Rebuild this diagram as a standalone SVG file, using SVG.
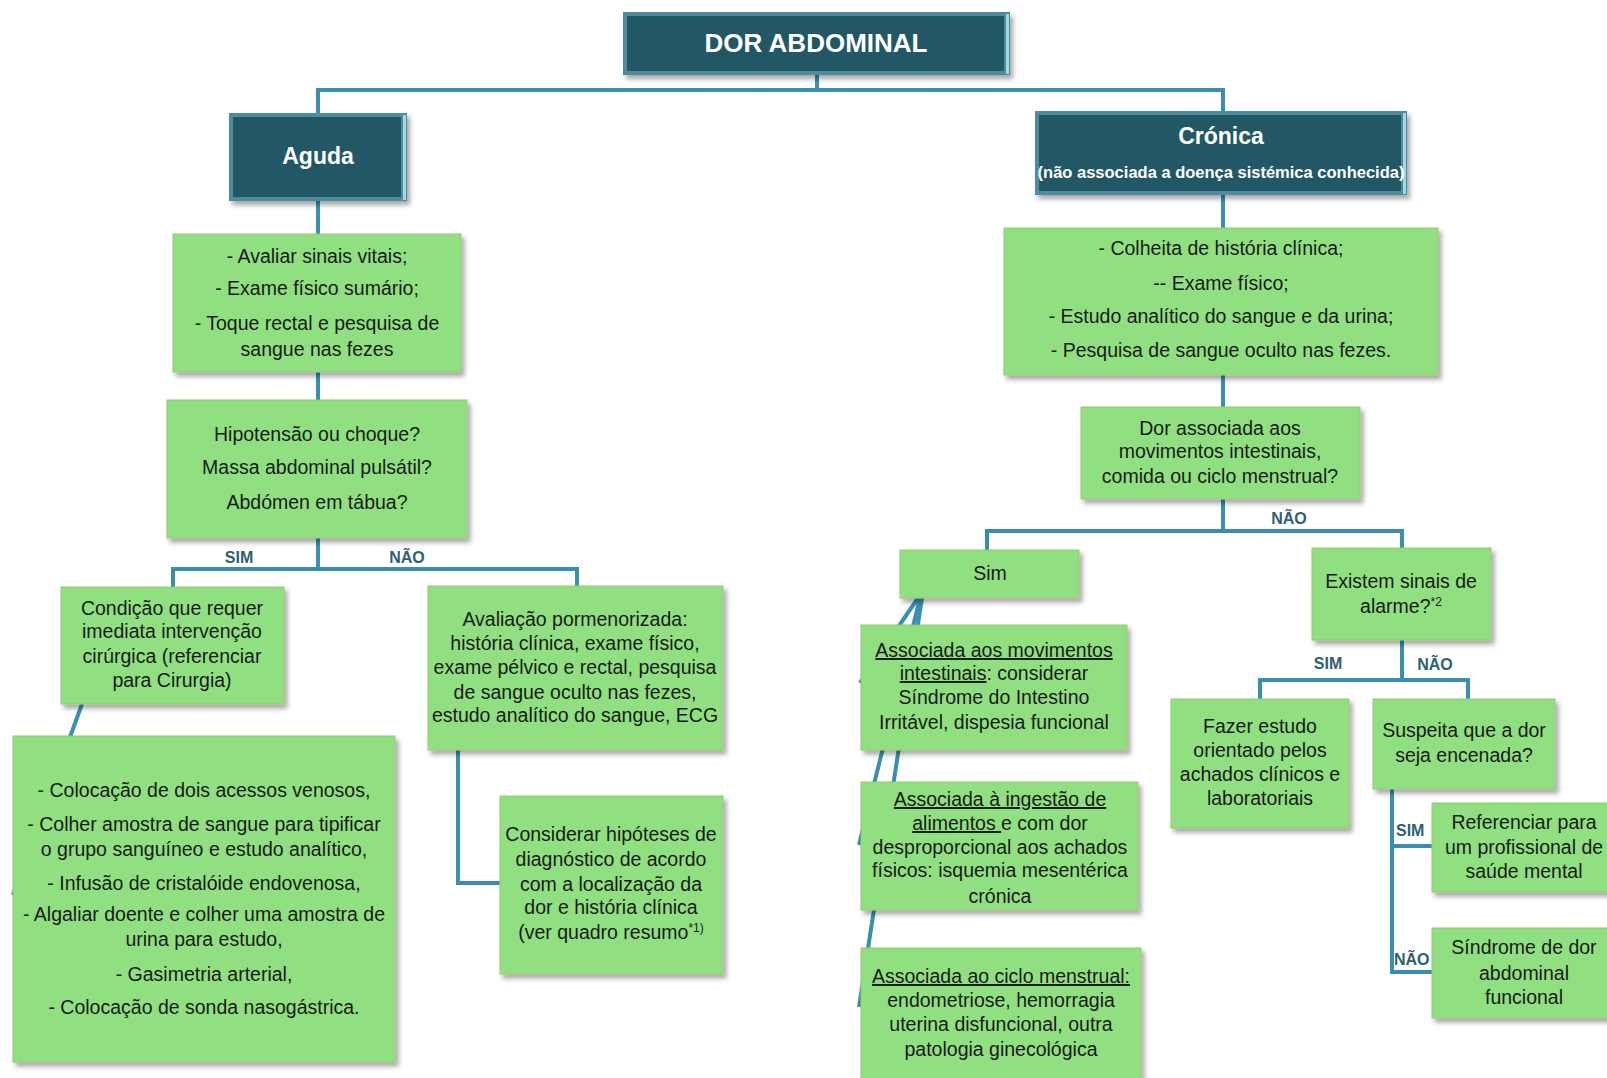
<svg xmlns="http://www.w3.org/2000/svg" width="1607" height="1078" viewBox="0 0 1607 1078">
<defs>
<filter id="sh" x="-10%" y="-10%" width="130%" height="140%">
<feDropShadow dx="3" dy="4" stdDeviation="2.5" flood-color="#000" flood-opacity="0.35"/>
</filter>
<style>
.bg{fill:#ffffff}
.gb{fill:#90e081;stroke:#9cc66f;stroke-width:1;filter:url(#sh)}
.dko{fill:#4d8c9c;filter:url(#sh)}
.dki{fill:#225866}
.hl{fill:#9fd9e6}
.t{font-family:"Liberation Sans",Arial,sans-serif;font-size:19.5px;fill:#1a1a1a;text-anchor:middle}
.h{font-family:"Liberation Sans",Arial,sans-serif;font-weight:bold;fill:#ffffff;text-anchor:middle}
.lb{font-family:"Liberation Sans",Arial,sans-serif;font-weight:bold;font-size:16px;fill:#2e5f72}
.c{fill:none;stroke:#3a8fb0;stroke-width:4}
.u{text-decoration:underline}
</style>
</defs>
<rect class="bg" x="0" y="0" width="1607" height="1078"/>

<g id="connectors">
<path class="c" d="M817 75 V90 M318 113 V90 H1223 V111"/>
<path class="c" d="M318 201 V234 M318 372 V400 M318 538 V569 M173 587 V569 H577 V586"/>
<path class="c" d="M82 704 L13 895"/>
<path class="c" d="M458 750 V883 H500"/>
<path class="c" d="M1223 195 V228 M1223 375 V407 M1223 499 V531 M987 550 V531 H1402 V548"/>
<path class="c" d="M918 598 L860 683 M920 598 L859 845 M922 598 L859 1007"/>
<path class="c" d="M1402 640 V680 M1260 699 V680 H1468 V699"/>
<path class="c" d="M1392 789 V972 H1432 M1392 846 H1432"/>
<text class="lb" x="239" y="563" text-anchor="middle">SIM</text>
<text class="lb" x="407" y="563" text-anchor="middle">NÃO</text>
<text class="lb" x="1289" y="524" text-anchor="middle">NÃO</text>
<text class="lb" x="1328" y="669" text-anchor="middle">SIM</text>
<text class="lb" x="1435" y="670" text-anchor="middle">NÃO</text>
<text class="lb" x="1396" y="836">SIM</text>
<text class="lb" x="1394" y="965">NÃO</text>
</g>

<g id="dor-abdominal">
<rect class="dko" x="623" y="12" width="387" height="63"/>
<rect class="dki" x="627" y="16" width="377" height="55"/>
<rect class="hl" x="1006" y="14" width="3" height="60"/>
<text class="h" x="816" y="52" font-size="26">DOR ABDOMINAL</text>
</g>

<g id="aguda">
<rect class="dko" x="229" y="113" width="178" height="88"/>
<rect class="dki" x="233" y="117" width="168" height="80"/>
<rect class="hl" x="403" y="115" width="3" height="85"/>
<text class="h" x="318" y="164" font-size="23">Aguda</text>
</g>

<g id="cronica">
<rect class="dko" x="1035" y="111" width="372" height="84"/>
<rect class="dki" x="1039" y="115" width="362" height="76"/>
<rect class="hl" x="1403" y="113" width="3" height="81"/>
<text class="h" x="1221" y="144" font-size="23">Crónica</text>
<text class="h" x="1221" y="178" font-size="16.5">(não associada a doença sistémica conhecida)</text>
</g>

<g id="avaliar">
<rect class="gb" x="173" y="234" width="288" height="138"/>
<text class="t" x="317" y="263">- Avaliar sinais vitais;</text>
<text class="t" x="317" y="295">- Exame físico sumário;</text>
<text class="t" x="317" y="330">- Toque rectal e pesquisa de</text>
<text class="t" x="317" y="356">sangue nas fezes</text>
</g>

<g id="hipotensao">
<rect class="gb" x="167" y="400" width="300" height="138"/>
<text class="t" x="317" y="441">Hipotensão ou choque?</text>
<text class="t" x="317" y="474">Massa abdominal pulsátil?</text>
<text class="t" x="317" y="509">Abdómen em tábua?</text>
</g>

<g id="condicao">
<rect class="gb" x="61" y="587" width="223" height="117"/>
<text class="t" x="172" y="615">Condição que requer</text>
<text class="t" x="172" y="638">imediata intervenção</text>
<text class="t" x="172" y="663">cirúrgica (referenciar</text>
<text class="t" x="172" y="687">para Cirurgia)</text>
</g>

<g id="avaliacao">
<rect class="gb" x="428" y="586" width="295" height="164"/>
<text class="t" x="575" y="626">Avaliação pormenorizada:</text>
<text class="t" x="575" y="650">história clínica, exame físico,</text>
<text class="t" x="575" y="674">exame pélvico e rectal, pesquisa</text>
<text class="t" x="575" y="699">de sangue oculto nas fezes,</text>
<text class="t" x="575" y="722">estudo analítico do sangue, ECG</text>
</g>

<g id="medidas">
<rect class="gb" x="13" y="736" width="382" height="326"/>
<text class="t" x="204" y="797">- Colocação de dois acessos venosos,</text>
<text class="t" x="204" y="831">- Colher amostra de sangue para tipificar</text>
<text class="t" x="204" y="856">o grupo sanguíneo e estudo analítico,</text>
<text class="t" x="204" y="890">- Infusão de cristalóide endovenosa,</text>
<text class="t" x="204" y="921">- Algaliar doente e colher uma amostra de</text>
<text class="t" x="204" y="946">urina para estudo,</text>
<text class="t" x="204" y="981">- Gasimetria arterial,</text>
<text class="t" x="204" y="1014">- Colocação de sonda nasogástrica.</text>
</g>

<g id="considerar">
<rect class="gb" x="500" y="796" width="223" height="178"/>
<text class="t" x="611" y="841">Considerar hipóteses de</text>
<text class="t" x="611" y="866">diagnóstico de acordo</text>
<text class="t" x="611" y="891">com a localização da</text>
<text class="t" x="611" y="914">dor e história clínica</text>
<text class="t" x="611" y="939">(ver quadro resumo<tspan font-size="12" dy="-7">*1)</tspan></text>
</g>

<g id="colheita">
<rect class="gb" x="1004" y="228" width="434" height="147"/>
<text class="t" x="1221" y="255">- Colheita de história clínica;</text>
<text class="t" x="1221" y="290">-- Exame físico;</text>
<text class="t" x="1221" y="323">- Estudo analítico do sangue e da urina;</text>
<text class="t" x="1221" y="357">- Pesquisa de sangue oculto nas fezes.</text>
</g>

<g id="dor-associada">
<rect class="gb" x="1081" y="407" width="279" height="92"/>
<text class="t" x="1220" y="435">Dor associada aos</text>
<text class="t" x="1220" y="458">movimentos intestinais,</text>
<text class="t" x="1220" y="483">comida ou ciclo menstrual?</text>
</g>

<g id="sim">
<rect class="gb" x="900" y="550" width="179" height="48"/>
<text class="t" x="990" y="580">Sim</text>
</g>

<g id="existem">
<rect class="gb" x="1312" y="548" width="179" height="92"/>
<text class="t" x="1401" y="588">Existem sinais de</text>
<text class="t" x="1401" y="613">alarme?<tspan font-size="12" dy="-7">*2</tspan></text>
</g>

<g id="associada-intestinais">
<rect class="gb" x="861" y="625" width="266" height="125"/>
<text class="t" x="994" y="657"><tspan class="u">Associada aos movimentos</tspan></text>
<text class="t" x="994" y="680"><tspan class="u">intestinais</tspan>: considerar</text>
<text class="t" x="994" y="704">Síndrome do Intestino</text>
<text class="t" x="994" y="729">Irritável, dispesia funcional</text>
</g>

<g id="associada-alimentos">
<rect class="gb" x="861" y="782" width="277" height="128"/>
<text class="t" x="1000" y="806"><tspan class="u">Associada à ingestão de</tspan></text>
<text class="t" x="1000" y="830"><tspan class="u">alimentos </tspan>e com dor</text>
<text class="t" x="1000" y="854">desproporcional aos achados</text>
<text class="t" x="1000" y="877">físicos: isquemia mesentérica</text>
<text class="t" x="1000" y="903">crónica</text>
</g>

<g id="associada-ciclo">
<rect class="gb" x="861" y="948" width="280" height="140"/>
<text class="t" x="1001" y="983"><tspan class="u">Associada ao ciclo menstrual:</tspan></text>
<text class="t" x="1001" y="1007">endometriose, hemorragia</text>
<text class="t" x="1001" y="1031">uterina disfuncional, outra</text>
<text class="t" x="1001" y="1056">patologia ginecológica</text>
</g>

<g id="fazer-estudo">
<rect class="gb" x="1171" y="699" width="178" height="129"/>
<text class="t" x="1260" y="733">Fazer estudo</text>
<text class="t" x="1260" y="757">orientado pelos</text>
<text class="t" x="1260" y="781">achados clínicos e</text>
<text class="t" x="1260" y="805">laboratoriais</text>
</g>

<g id="suspeita">
<rect class="gb" x="1373" y="699" width="182" height="90"/>
<text class="t" x="1464" y="737">Suspeita que a dor</text>
<text class="t" x="1464" y="762">seja encenada?</text>
</g>

<g id="referenciar">
<rect class="gb" x="1432" y="803" width="190" height="89"/>
<text class="t" x="1524" y="829">Referenciar para</text>
<text class="t" x="1524" y="854">um profissional de</text>
<text class="t" x="1524" y="878">saúde mental</text>
</g>

<g id="sindrome">
<rect class="gb" x="1432" y="928" width="190" height="90"/>
<text class="t" x="1524" y="954">Síndrome de dor</text>
<text class="t" x="1524" y="980">abdominal</text>
<text class="t" x="1524" y="1004">funcional</text>
</g>
</svg>
